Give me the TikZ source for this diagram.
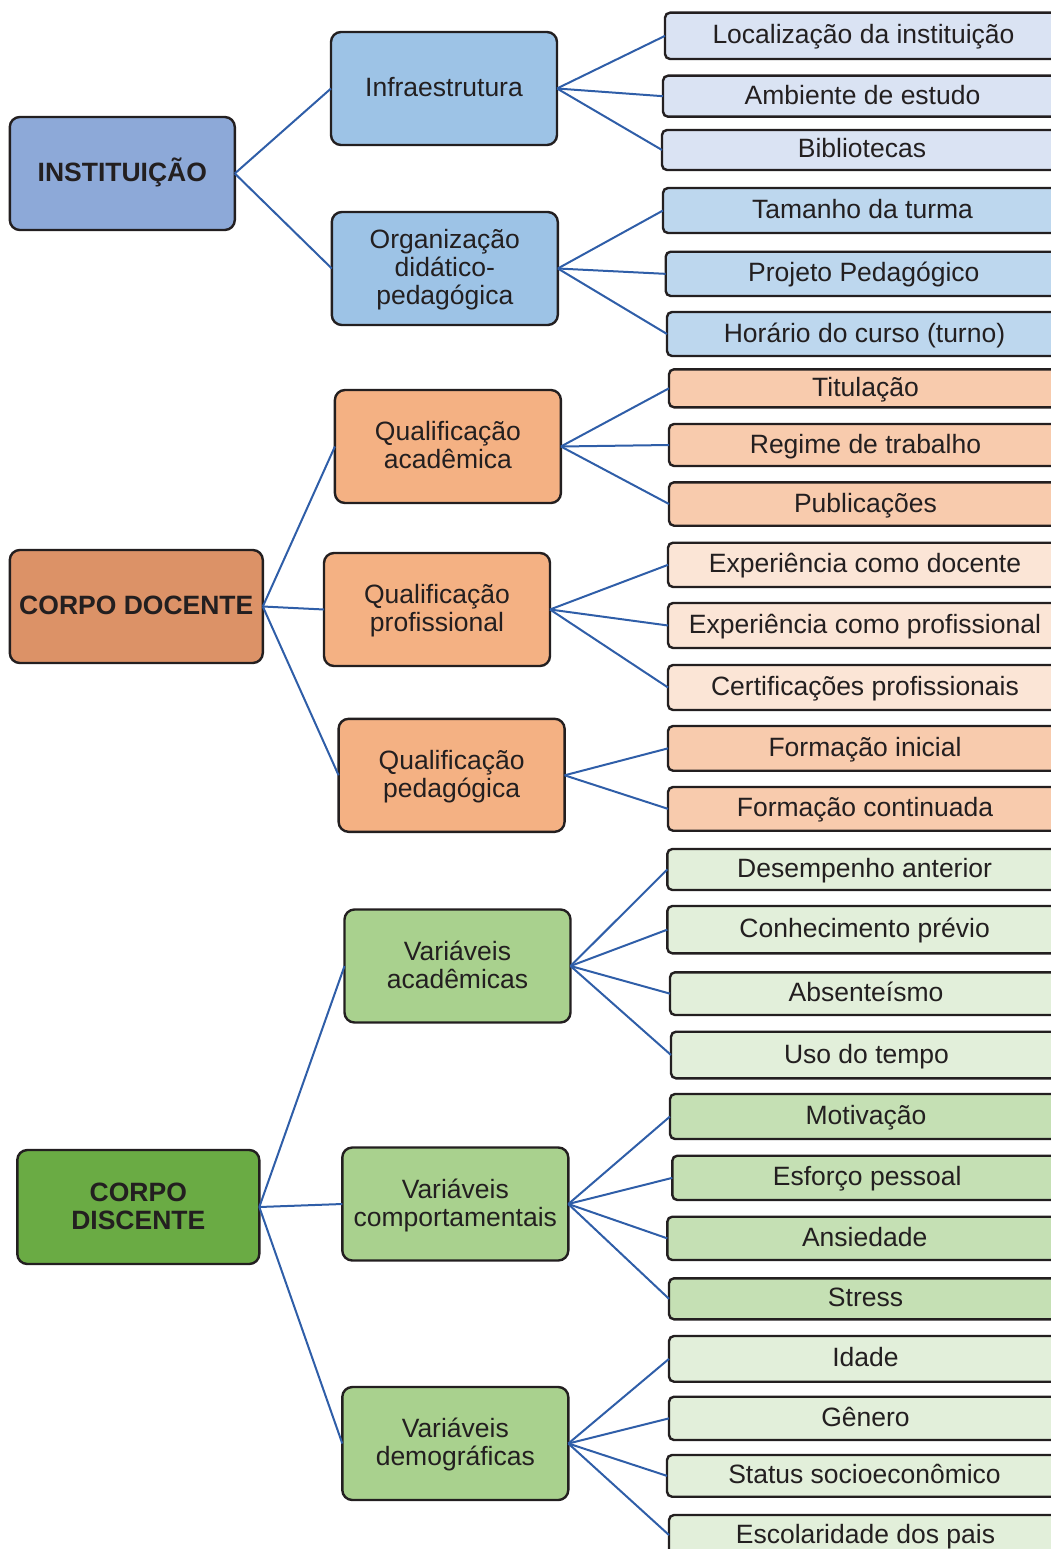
\documentclass[tikz,border=0pt]{standalone}
\usepackage{fontspec}
\setmainfont{Liberation Sans}
\definecolor{edge}{HTML}{231F20}
\definecolor{txt}{HTML}{231F20}
\definecolor{linec}{HTML}{2F5EA8}
\definecolor{bRoot}{HTML}{8DA9D8}
\definecolor{bMid}{HTML}{9DC3E6}
\definecolor{bLeafA}{HTML}{DAE3F3}
\definecolor{bLeafB}{HTML}{BDD7EE}
\definecolor{oRoot}{HTML}{DC9267}
\definecolor{oMid}{HTML}{F4B183}
\definecolor{oLeafA}{HTML}{F8CBAD}
\definecolor{oLeafB}{HTML}{FBE5D6}
\definecolor{gRoot}{HTML}{6AAB44}
\definecolor{gMid}{HTML}{A9D18E}
\definecolor{gLeafA}{HTML}{E2EFDA}
\definecolor{gLeafB}{HTML}{C5E0B4}
\newcommand\lineS[1]{\rule[-6pt]{0pt}{28pt}\smash{#1}}
\newcommand\leaf[6]{\node[leafbox, fill=#5, minimum width={(1062-#2)*1pt}, minimum height={(#4-#3)*1pt}] (#1) at (#2,#3) {#6};}
\tikzset{
  basebox/.style={draw=edge, line width=2.4pt, text=txt, inner sep=0pt, outer sep=0pt, align=center, font=\fontsize{26.5}{28}\selectfont},
  rootbox/.style={basebox, rounded corners=10pt, font=\fontsize{26.5}{28}\selectfont\bfseries},
  midbox/.style={basebox, rounded corners=10pt, minimum width=226pt, minimum height=113pt},
  leafbox/.style={basebox, rounded corners=5pt, anchor=north west, text height=22pt, text depth=6pt},
  conn/.style={draw=linec, line width=2pt},
}
\begin{document}
\begin{tikzpicture}[x=1pt,y=-1pt]
\useasboundingbox (0,0) rectangle (1051,1549);
\clip (0,0) rectangle (1051,1549);

% roots
\node[rootbox, fill=bRoot, minimum width=225pt, minimum height=113pt] (inst) at (122.3,173.5) {\lineS{INSTITUIÇÃO}};
\node[rootbox, fill=oRoot, minimum width=253pt, minimum height=113pt] (doc) at (136.3,606.5) {\lineS{CORPO DOCENTE}};
\node[rootbox, fill=gRoot, minimum width=242pt, minimum height=114pt] (dis) at (138.3,1207) {\lineS{CORPO}\\\lineS{DISCENTE}};

% middle
\node[midbox, fill=bMid] (infra) at (444,88.5) {\lineS{Infraestrutura}};
\node[midbox, fill=bMid] (org) at (444.8,268.5) {\lineS{Organização}\\\lineS{didático-}\\\lineS{pedagógica}};
\node[midbox, fill=oMid] (qa) at (447.9,446.5) {\lineS{Qualificação}\\\lineS{acadêmica}};
\node[midbox, fill=oMid] (qp) at (437,609.5) {\lineS{Qualificação}\\\lineS{profissional}};
\node[midbox, fill=oMid] (qd) at (451.6,775.3) {\lineS{Qualificação}\\\lineS{pedagógica}};
\node[midbox, fill=gMid] (va) at (457.5,966) {\lineS{Variáveis}\\\lineS{acadêmicas}};
\node[midbox, fill=gMid] (vc) at (455.3,1204) {\lineS{Variáveis}\\\lineS{comportamentais}};
\node[midbox, fill=gMid] (vd) at (455.3,1443.5) {\lineS{Variáveis}\\\lineS{demográficas}};

% leaves
\leaf{l1}{665}{12.7}{59}{bLeafA}{Localização da instituição}
\leaf{l2}{663}{75.7}{116.7}{bLeafA}{Ambiente de estudo}
\leaf{l3}{662}{130}{170}{bLeafA}{Bibliotecas}
\leaf{l4}{663}{188}{233}{bLeafB}{Tamanho da turma}
\leaf{l5}{665.7}{251.7}{296}{bLeafB}{Projeto Pedagógico}
\leaf{l6}{667}{312}{356}{bLeafB}{Horário do curso (turno)}
\leaf{l7}{669}{369.3}{407.3}{oLeafA}{Titulação}
\leaf{l8}{669}{424}{466}{oLeafA}{Regime de trabalho}
\leaf{l9}{669}{482.3}{525.7}{oLeafA}{Publicações}
\leaf{l10}{668}{542.7}{587}{oLeafB}{Experiência como docente}
\leaf{l11}{668}{603}{648}{oLeafB}{Experiência como profissional}
\leaf{l12}{668}{665}{710}{oLeafB}{Certificações profissionais}
\leaf{l13}{668}{726}{770.7}{oLeafA}{Formação inicial}
\leaf{l14}{668}{787}{830.7}{oLeafA}{Formação continuada}
\leaf{l15}{667.3}{849}{890}{gLeafA}{Desempenho anterior}
\leaf{l16}{667.3}{906}{953.3}{gLeafA}{Conhecimento prévio}
\leaf{l17}{670}{972.3}{1015}{gLeafA}{Absenteísmo}
\leaf{l18}{671}{1031.7}{1078.3}{gLeafA}{Uso do tempo}
\leaf{l19}{670}{1094}{1139}{gLeafB}{Motivação}
\leaf{l20}{672.3}{1155.7}{1200}{gLeafB}{Esforço pessoal}
\leaf{l21}{667.3}{1216.7}{1260}{gLeafB}{Ansiedade}
\leaf{l22}{669}{1278.3}{1319.3}{gLeafB}{Stress}
\leaf{l23}{669}{1336}{1381.7}{gLeafA}{Idade}
\leaf{l24}{669}{1396.7}{1440}{gLeafA}{Gênero}
\leaf{l25}{667}{1455}{1496.7}{gLeafA}{Status socioeconômico}
\leaf{l26}{669}{1515}{1555}{gLeafA}{Escolaridade dos pais}

% connectors
\foreach \a/\b in {inst/infra, inst/org, doc/qa, doc/qp, doc/qd, dis/va, dis/vc, dis/vd,
  infra/l1, infra/l2, infra/l3, org/l4, org/l5, org/l6,
  qa/l7, qa/l8, qa/l9, qp/l10, qp/l11, qp/l12, qd/l13, qd/l14,
  va/l15, va/l16, va/l17, va/l18, vc/l19, vc/l20, vc/l21, vc/l22,
  vd/l23, vd/l24, vd/l25, vd/l26}
  \draw[conn] (\a.east) -- (\b.west);
\end{tikzpicture}
\end{document}
